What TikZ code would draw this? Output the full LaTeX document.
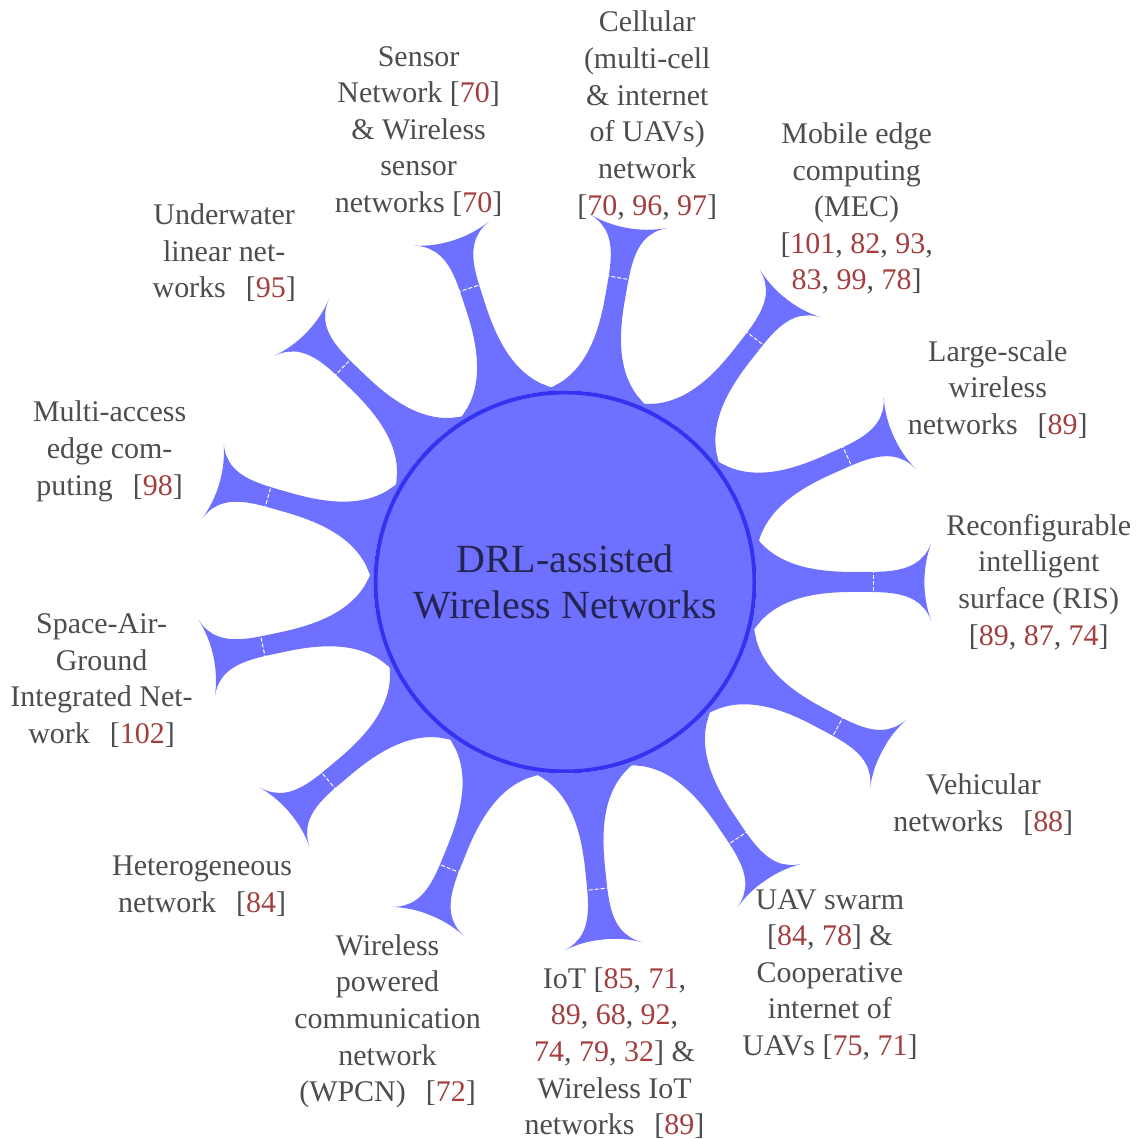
\documentclass[tikz,border=0pt]{standalone}
\usepackage{fontspec}
\setmainfont{Liberation Serif}
\usetikzlibrary{mindmap,backgrounds}
\definecolor{barblue}{RGB}{110,112,255}
\definecolor{rimblue}{RGB}{50,50,240}
\definecolor{labelgray}{RGB}{77,77,77}
\definecolor{hubtext}{RGB}{36,36,80}
\definecolor{citered}{RGB}{163,62,62}
\newcommand{\rf}[1]{\textcolor{citered}{#1}}
\newcommand{\cb}[1]{[#1]}
\newcommand{\wide}{\hspace{6pt}}
\begin{document}
\begin{tikzpicture}[
  hub/.style={circle, minimum size=4cm, inner sep=0pt, fill=barblue, draw=rimblue,
    line width=1.2pt, text=hubtext, align=center, font=\fontsize{12}{13.8}\selectfont},
  spoke/.style={circle, minimum size=2.4cm, inner sep=0pt},
  leaf/.style={text=labelgray, align=center, inner sep=0pt, font=\fontsize{9}{11}\selectfont},
  bar/.style={circle connection bar switch color=from (barblue) to (barblue)},
  seam/.style={white, line width=0.3pt, dash pattern=on 1.2pt off 0.6pt}
]
\useasboundingbox (-5.963,-5.879) rectangle (6.037,6.142);

% central concept
\node[hub] (hub) at (0,0) {DRL-assisted\\Wireless Networks};

% invisible circles that the bars attach to
\foreach \name/\ang in {cell/80, mec/52, lsw/24, ris/0, veh/-28, uav/-56, iot/-84,
    wpcn/-112, het/-140, sagin/-168, maec/164, uwn/136, wsn/108}
  \node[spoke] (\name) at (\ang:5cm) {};

% connection bars, behind the central circle
\begin{scope}[on background layer]
  \foreach \name in {cell, mec, lsw, ris, veh, uav, iot, wpcn, het, sagin, maec, uwn, wsn}
    \path (hub) to[bar] (\name);
\end{scope}

% thin seam across the middle of every bar
\foreach \ang in {80, 52, 24, 0, -28, -56, -84, -112, -140, -168, 164, 136, 108}
  \draw[seam] ([shift={(\ang+90:0.14)}]\ang:3.26cm) -- ([shift={(\ang-90:0.14)}]\ang:3.26cm);

% labels
\node[leaf] (cellt) at (cell) {Cellular\\(multi-cell\\\& internet\\of UAVs)\\network\\\cb{\rf{70}, \rf{96}, \rf{97}}};
\node[leaf] (mect) at (mec) {Mobile edge\\computing\\(MEC)\\\cb{\rf{101}, \rf{82}, \rf{93},\\\rf{83}, \rf{99}, \rf{78}}};
\node[leaf] (lswt) at (lsw) {Large-scale\\wireless\\networks\wide\cb{\rf{89}}};
\node[leaf] (rist) at (ris) {Reconfigurable\\intelligent\\surface (RIS)\\\cb{\rf{89}, \rf{87}, \rf{74}}};
\node[leaf] (veht) at (veh) {Vehicular\\networks\wide\cb{\rf{88}}};
\node[leaf] (uavt) at (uav) {UAV swarm\\\cb{\rf{84}, \rf{78}} \&\\Cooperative\\internet of\\UAVs \cb{\rf{75}, \rf{71}}};
\node[leaf] (iott) at (iot) {IoT \cb{\rf{85}, \rf{71},\\\rf{89}, \rf{68}, \rf{92},\\\rf{74}, \rf{79}, \rf{32}} \&\\Wireless IoT\\networks\wide\cb{\rf{89}}};
\node[leaf] (wpcnt) at (wpcn) {Wireless\\powered\\communication\\network\\(WPCN)\wide\cb{\rf{72}}};
\node[leaf] (hett) at (het) {Heterogeneous\\network\wide\cb{\rf{84}}};
\node[leaf] (sagint) at (sagin) {Space-Air-\\Ground\\Integrated Net-\\work\wide\cb{\rf{102}}};
\node[leaf] (maect) at (maec) {Multi-access\\edge com-\\puting\wide\cb{\rf{98}}};
\node[leaf] (uwnt) at (uwn) {Underwater\\linear net-\\works\wide\cb{\rf{95}}};
\node[leaf] (wsnt) at (wsn) {Sensor\\Network \cb{\rf{70}}\\\& Wireless\\sensor\\networks \cb{\rf{70}}};
\end{tikzpicture}
\end{document}
